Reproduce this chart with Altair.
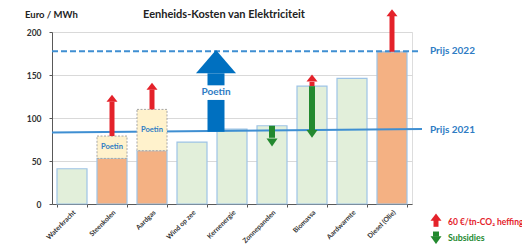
import altair as alt
import pandas as pd

categories = ["Waterkracht", "Steenkolen", "Aardgas", "Wind op zee", "Kernenergie",
              "Zonnepanelen", "Biomassa", "Aardwarmte", "Diesel (Olie)"]
bar_values = [41, 53, 62, 72, 87, 91, 137, 146, 177]
bar_kind = ["g", "o", "o", "g", "g", "g", "g", "g", "o"]

poetin_cats = ["Steenkolen", "Aardgas"]
poetin_bottom = [53, 62]
poetin_top = [79, 110]
poetin_label_y = [66, 86]

# red arrows (CO2 heffing): x position (band units), shaft bottom, head base, tip
red_x = [1.5, 2.5, 6.5, 8.5, 9.6]
red_bottom = [79, 110, 137, 177, -26.5]
red_base = [119, 133, 142, 219, -18.5]
red_tip = [127, 141, 151, 226, -12]

# green arrows (subsidies): x, shaft top, head top, tip
green_x = [5.5, 6.5, 9.6]
green_top = [91, 137, -32]
green_head = [77, 86, -38]
green_tip = [66, 77, -46]

# big blue arrow (Poetin)
blue_x = [4.1]
blue_shaft_low = [84, 138]
blue_shaft_high = [121, 152]
blue_head_base = [152]
blue_tip = [179]
blue_label_y = [130]

prijs2021_x = [0, 9.25]
prijs2021_y = [83, 87.2]
prijs2022_x = [0, 9.2]
prijs2022_y = [177.5, 177.5]

FONT = "Lato"
LINE_BLUE = "#3f8fd2"
TEXT_BLUE = "#2e7cc4"
RED = "#e4222a"
GREEN = "#23892f"

colors = {"g": "#e2efda", "o": "#f4b183"}
bars = pd.DataFrame({"cat": categories, "v": bar_values,
                     "fill": [colors[k] for k in bar_kind]})
poetin = pd.DataFrame({"cat": poetin_cats, "lo": poetin_bottom, "hi": poetin_top,
                       "ly": poetin_label_y})

yscale = alt.Scale(domain=[0, 200], nice=False)
bscale = alt.Scale(domain=categories, paddingInner=0.25, paddingOuter=0.125)
xband = alt.X("cat:N", sort=categories, title=None, scale=bscale,
              axis=alt.Axis(labelAngle=-45, labelFont=FONT, labelFontSize=6.8,
                            labelFontWeight="bold", labelColor="#333333",
                            tickBand="extent", tickSize=3, tickColor="#595959",
                            domainColor="#595959", labelPadding=2))
xband2 = alt.X("cat:N", sort=categories, title=None, scale=bscale, axis=None)
yax = alt.Axis(values=[0, 50, 100, 150, 200], grid=True, gridColor="#d9d9d9",
               labelFont=FONT, labelFontSize=8.5, labelFontWeight="bold",
               labelColor="#333333", domainColor="#595959", tickSize=3,
               tickColor="#595959", labelPadding=8, title=None)

bar_layer = alt.Chart(bars).mark_bar(stroke="#9dc3e6", strokeWidth=1.2).encode(
    x=xband,
    y=alt.Y("v:Q", scale=yscale, axis=yax),
    y2=alt.datum(0),
    fill=alt.Fill("fill:N", scale=None),
)
poetin_box = alt.Chart(poetin).mark_bar(fill="#fff2cc", stroke="#a6a6a6",
                                        strokeWidth=1, strokeDash=[2, 1.5]).encode(
    x=xband2,
    y=alt.Y("hi:Q", scale=yscale),
    y2="lo:Q",
)
poetin_txt = alt.Chart(poetin).mark_text(font=FONT, fontSize=7.5, fontWeight="bold",
                                         color=TEXT_BLUE).encode(
    x=xband2,
    y=alt.Y("ly:Q", scale=yscale),
    text=alt.value("Poetin"),
)
poetin_layers = alt.layer(poetin_box, poetin_txt)

XQ = lambda f: alt.X(f, type="quantitative",
                     scale=alt.Scale(domain=[0, 9], nice=False, zero=False), axis=None)
YQ = lambda f: alt.Y(f, type="quantitative", scale=yscale)

l21 = alt.Chart(pd.DataFrame({"x": prijs2021_x, "y": prijs2021_y})).mark_line(
    color=LINE_BLUE, strokeWidth=2).encode(x=XQ("x"), y=YQ("y"))
l22 = alt.Chart(pd.DataFrame({"x": prijs2022_x, "y": prijs2022_y})).mark_line(
    color=LINE_BLUE, strokeWidth=2, strokeDash=[6, 3]).encode(x=XQ("x"), y=YQ("y"))
line_layers = alt.layer(l21, l22)

labels = pd.DataFrame({
    "x": [9.45, 9.45, 4.3, -0.675, 9.9, 9.9],
    "y": [177.5, 85.7, 219.5, 219.5, -20.5, -40],
    "t": ["Prijs 2022", "Prijs 2021", "Eenheids-Kosten van Elektriciteit",
          "Euro / MWh", "60 €/tn-CO₂ heffing", "Subsidies"],
    "c": [TEXT_BLUE, TEXT_BLUE, "#222222", "#222222", RED, GREEN],
    "s": [10, 10, 11, 9.5, 8.5, 8.8],
    "a": ["left", "left", "center", "left", "left", "left"],
})
txt_layers = []
for al in ["left", "center"]:
    d = labels[labels.a == al]
    txt_layers.append(alt.Chart(d).mark_text(font=FONT, fontWeight="bold", align=al,
                                             baseline="middle").encode(
        x=XQ("x"), y=YQ("y"), text="t:N",
        color=alt.Color("c:N", scale=None), size=alt.Size("s:Q", scale=None)))

red = pd.DataFrame({"x": red_x, "lo": red_bottom, "base": red_base, "tip": red_tip})
red["hc"] = (red["base"] + red["tip"]) / 2
red_shaft = alt.Chart(red).mark_rule(color=RED, strokeWidth=5).encode(
    x=XQ("x"), y=YQ("lo"), y2="base:Q")
red_head = alt.Chart(red).mark_point(shape="M-1,0.64L1,0.64L0,-0.64Z", size=121,
                                     filled=True, color=RED, opacity=1).encode(
    x=XQ("x"), y=YQ("hc"))

green = pd.DataFrame({"x": green_x, "top": green_top, "head": green_head, "tip": green_tip})
green["hc"] = (green["head"] + green["tip"]) / 2
green_shaft = alt.Chart(green).mark_rule(color=GREEN, strokeWidth=6).encode(
    x=XQ("x"), y=YQ("top"), y2="head:Q")
green_head = alt.Chart(green).mark_point(shape="M-1,-0.72L1,-0.72L0,0.72Z", size=121,
                                         filled=True, color=GREEN, opacity=1).encode(
    x=XQ("x"), y=YQ("hc"))

blue_sh = pd.DataFrame({"x": blue_x * 2, "lo": blue_shaft_low, "hi": blue_shaft_high})
blue_hd = pd.DataFrame({"x": blue_x, "hc": [(blue_head_base[0] + blue_tip[0]) / 2],
                        "ly": blue_label_y})
blue_shaft = alt.Chart(blue_sh).mark_rule(color="#0070c0", strokeWidth=17).encode(
    x=XQ("x"), y=YQ("lo"), y2="hi:Q")
blue_head = alt.Chart(blue_hd).mark_point(shape="M-1,0.58L1,0.58L0,-0.58Z", size=1600,
                                          filled=True, color="#0070c0", opacity=1).encode(
    x=XQ("x"), y=YQ("hc"))
blue_txt = alt.Chart(blue_hd).mark_text(font=FONT, fontSize=10, fontWeight="bold",
                                        color=TEXT_BLUE).encode(
    x=XQ("x"), y=YQ("ly"), text=alt.value("Poetin"))

arrow_layers = alt.layer(blue_shaft, blue_head, blue_txt, red_shaft, red_head,
                         green_shaft, green_head, *txt_layers)

chart = alt.layer(bar_layer, line_layers, poetin_layers, arrow_layers).resolve_scale(
    x="independent").properties(
    width=360, height=172,
    autosize=alt.AutoSizeParams(type="none"),
    padding={"left": 44, "top": 24, "right": 110, "bottom": 40},
).configure_view(stroke="#595959", strokeWidth=1).configure(background="white")

chart.save("out.html", embed_options={"renderer": "svg", "actions": False})
